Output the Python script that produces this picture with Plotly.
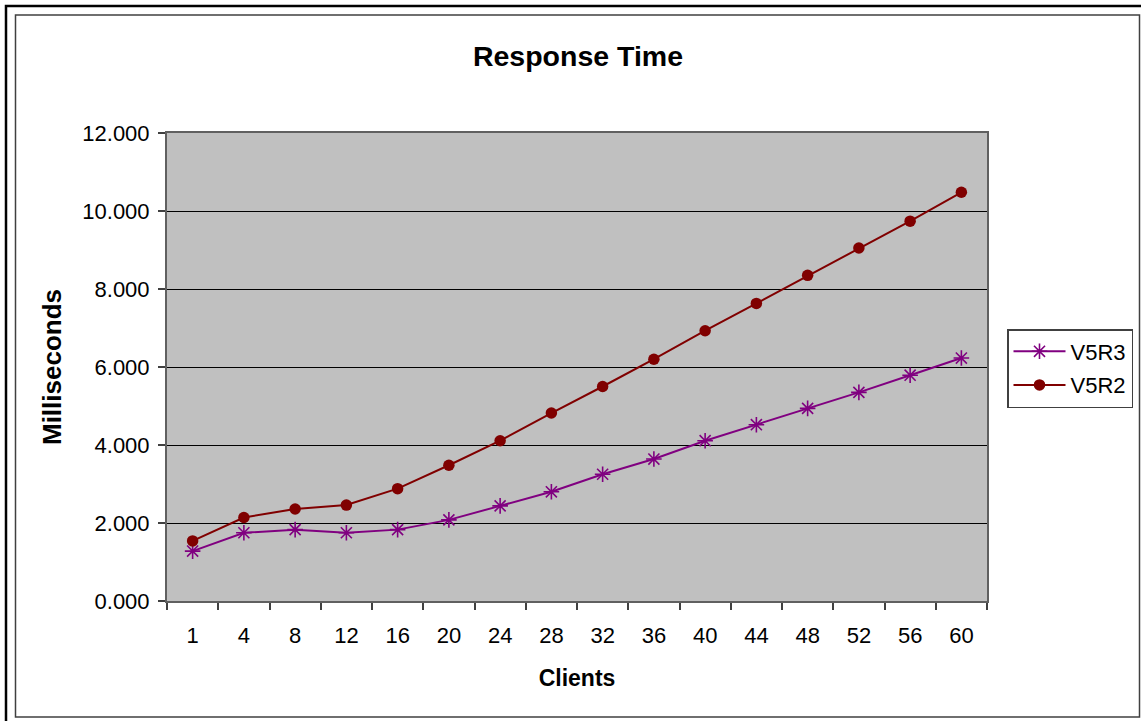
import plotly.graph_objects as go

clients = ["1", "4", "8", "12", "16", "20", "24", "28", "32", "36", "40", "44", "48", "52", "56", "60"]
v5r3 = [1.28, 1.75, 1.83, 1.75, 1.83, 2.08, 2.44, 2.80, 3.25, 3.64, 4.11, 4.52, 4.94, 5.35, 5.79, 6.23]
v5r2 = [1.54, 2.14, 2.36, 2.46, 2.88, 3.48, 4.11, 4.82, 5.50, 6.20, 6.93, 7.63, 8.35, 9.05, 9.74, 10.48]
y_ticks = [0, 2, 4, 6, 8, 10, 12]

W, H = 1141, 721
L, R, T, B = 167, 154, 133, 120
PW, PH = W - L - R, H - T - B


def px(x):
    return (x - L) / PW


def py(y):
    return (H - B - y) / PH


FONT = "Liberation Sans, Arial, sans-serif"

fig = go.Figure()
fig.add_trace(go.Scatter(
    x=clients, y=v5r3, name="V5R3", mode="lines+markers", legendgroup="a",
    line=dict(color="#800080", width=2),
    marker=dict(symbol="asterisk-open", size=13, color="#800080",
                line=dict(color="#800080", width=1.6)),
))
fig.add_trace(go.Scatter(
    x=clients, y=v5r2, name="V5R2", mode="lines+markers", legendgroup="b",
    line=dict(color="#800000", width=2),
    marker=dict(symbol="circle", size=11.5, color="#800000"),
))

shapes = [
    # outer black frame (left/top)
    dict(type="path", xref="paper", yref="paper",
         path=f"M {px(6)},{py(725)} L {px(6)},{py(6)} L {px(1145)},{py(6)}",
         line=dict(color="black", width=2.5)),
    # inner frame
    dict(type="rect", xref="paper", yref="paper",
         x0=px(15.5), x1=px(1139.5), y0=py(717), y1=py(15),
         line=dict(color="#404040", width=1.5)),
]

fig.update_layout(
    width=W, height=H,
    margin=dict(l=L, r=R, t=T, b=B, pad=0, autoexpand=False),
    paper_bgcolor="white",
    plot_bgcolor="#C0C0C0",
    font=dict(family=FONT, size=22, color="black"),
    title=dict(text="<b>Response Time</b>", x=px(578), xref="paper", xanchor="center",
               y=1 - 56 / H, yref="container", yanchor="middle",
               font=dict(family=FONT, size=28.5, color="black")),
    showlegend=True,
    legend=dict(x=px(1007), xanchor="left", y=py(329), yanchor="top",
                bordercolor="#404040", borderwidth=1.5, bgcolor="white",
                font=dict(family=FONT, size=22, color="black"),
                traceorder="grouped", tracegroupgap=2, itemwidth=52),
    shapes=shapes,
)

fig.update_xaxes(
    type="category", categoryorder="array", categoryarray=clients,
    range=[-0.5, len(clients) - 0.5],
    tickson="boundaries", ticks="outside", ticklen=7, tickcolor="#404040", tickwidth=1.5,
    showgrid=False, showline=True, linecolor="#606060", linewidth=2, mirror=True,
    tickfont=dict(family=FONT, size=22, color="black"), ticklabelstandoff=14,
    title=dict(text="<b>Clients</b>", font=dict(family=FONT, size=23, color="black"), standoff=22),
)
fig.update_yaxes(
    range=[0, 12], tickvals=y_ticks, tickformat=".3f",
    ticks="outside", ticklen=7, tickcolor="#404040", tickwidth=1.5,
    showgrid=True, gridcolor="black", gridwidth=1,
    zeroline=False,
    showline=True, linecolor="#606060", linewidth=2, mirror=True,
    tickfont=dict(family=FONT, size=22, color="black"), ticklabelstandoff=4,
    title=dict(text="<b>Milliseconds</b>", font=dict(family=FONT, size=26, color="black"), standoff=13),
)

fig.write_html(
    "out.html",
    config={"displayModeBar": False},
    post_script="document.body.style.margin='0px';document.body.style.overflow='hidden';",
)
